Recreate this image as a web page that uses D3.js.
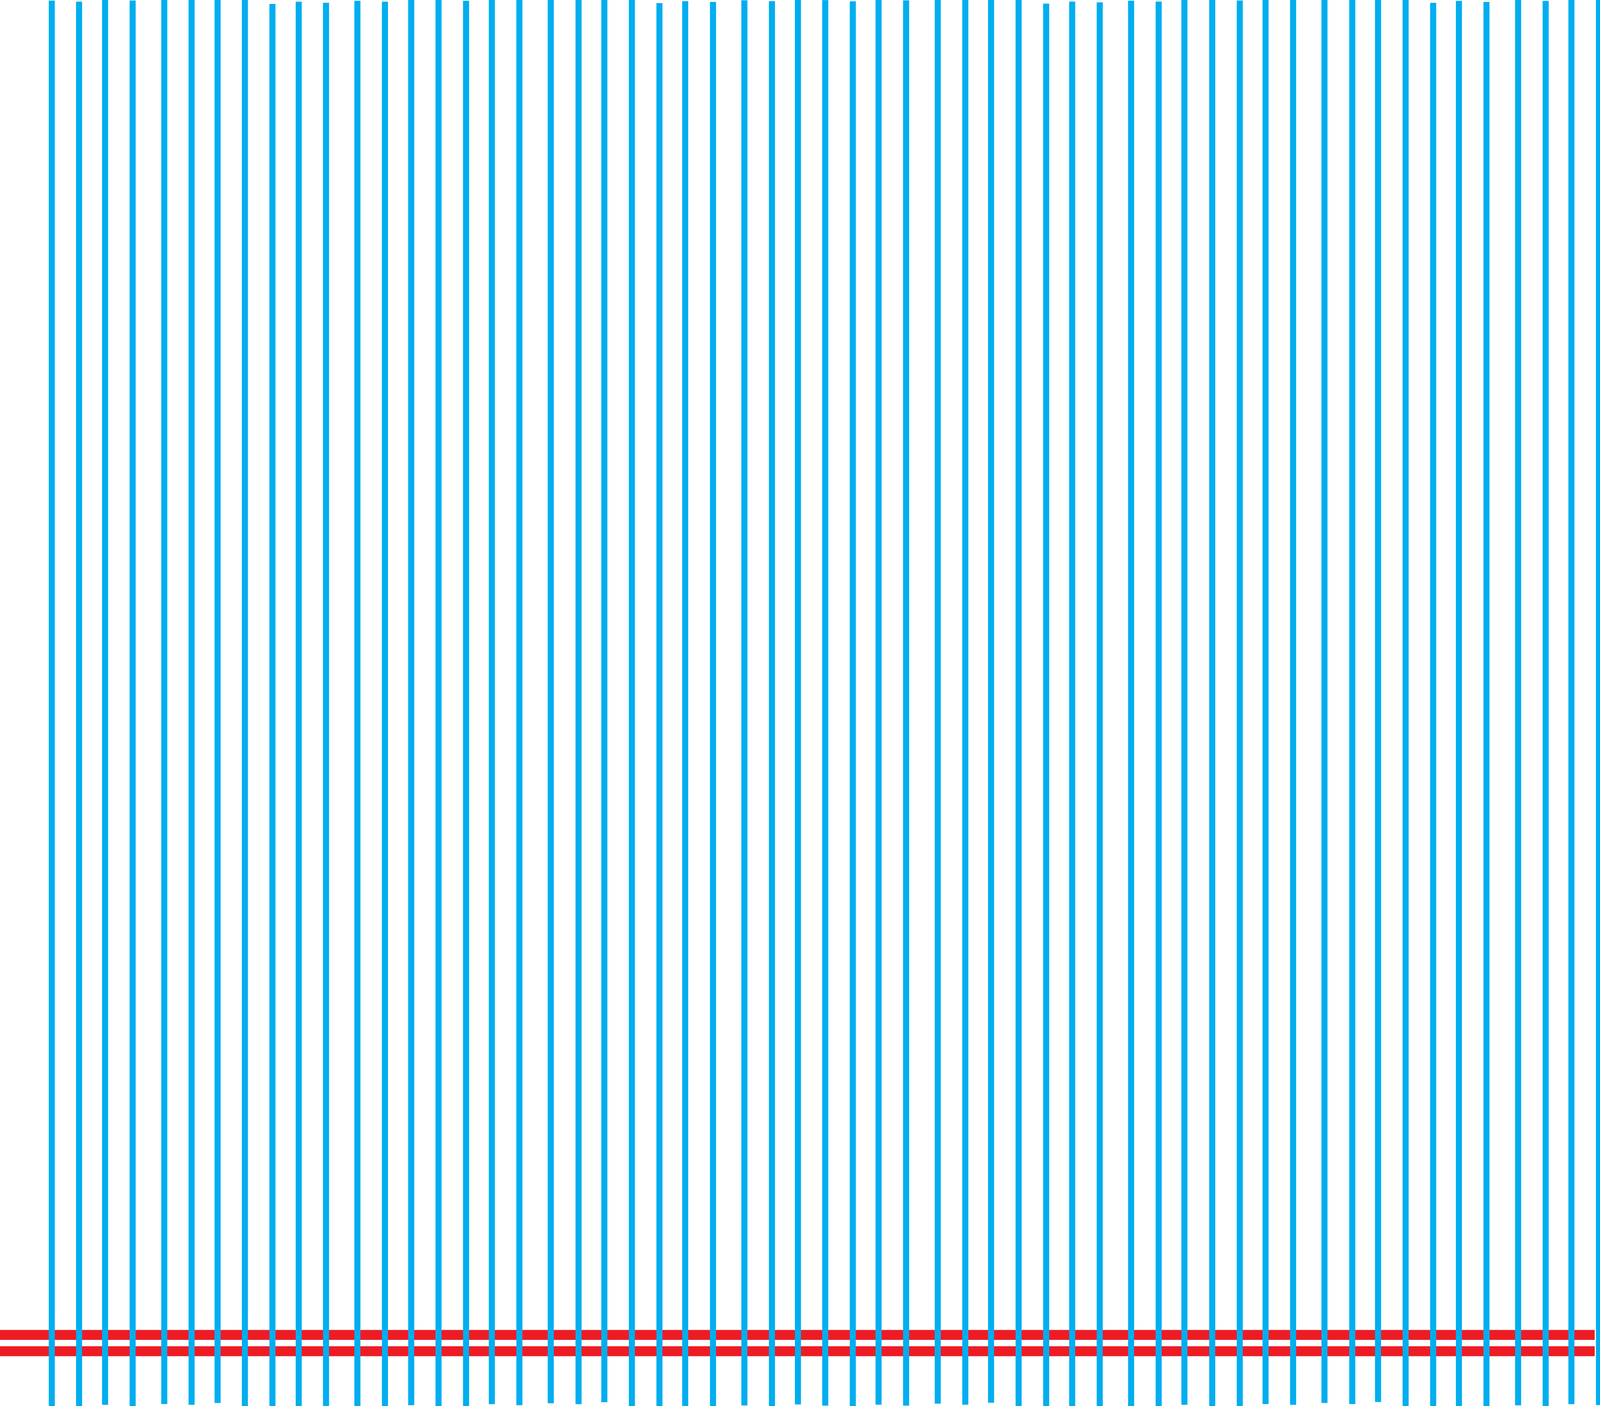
<!DOCTYPE html>
<html>
<head>
<meta charset="utf-8">
<script src="https://cdn.jsdelivr.net/npm/d3@7"></script>
<style>
  html, body { margin: 0; padding: 0; width: 100%; height: 100%; background: #ffffff; overflow: hidden; }
  svg { display: block; width: 100vw; height: 100vh; }
</style>
</head>
<body>
<svg id="chart"></svg>
<script>
// ---- data ----
const barPositions = [
  18.64, 28.47, 37.83, 47.75, 59.14, 68.97, 78.33, 88.16, 98.08, 107.54,
  117.37, 128.66, 138.58, 148.04, 157.87, 167.78, 177.06, 186.98, 198.27, 208.28,
  217.56, 227.48, 237.40, 246.67, 256.68, 267.98, 277.90, 287.26, 297.09, 307.01,
  316.28, 326.20, 337.59, 347.51, 356.78, 366.70, 376.62, 385.99, 395.90, 407.20,
  417.12, 426.39, 436.41, 446.32, 455.60, 465.52, 476.81, 486.82, 496.10, 506.02,
  515.94, 525.21, 535.13, 546.52, 556.44, 565.71, 575.63
];
const barHigh = [
  359.85, 359.58, 360.00, 359.87, 360.00, 360.00, 360.00, 360.00, 359.00, 359.57,
  359.30, 359.80, 359.57, 360.00, 360.00, 359.80, 360.00, 360.00, 360.00, 360.00,
  360.00, 360.00, 359.20, 359.70, 359.50, 359.93, 359.70, 360.00, 359.97, 359.67,
  360.00, 359.90, 360.00, 360.00, 360.00, 360.00, 359.07, 359.60, 359.40, 359.83,
  359.60, 360.00, 360.00, 359.87, 360.00, 360.00, 360.00, 360.00, 360.00, 360.00,
  359.27, 359.77, 359.50, 360.00, 359.77, 360.00, 360.00
];
const barLow = [
  0.00, 0.00, 0.30, 0.00, 0.50, 0.30, 0.77, 0.00, 0.00, 0.00,
  0.00, 0.00, 0.00, 0.20, 0.00, 0.00, 0.47, 0.20, 0.70, 0.47,
  0.97, 0.00, 0.00, 0.00, 0.00, 0.13, 0.00, 0.40, 0.10, 0.00,
  0.33, 0.10, 0.60, 0.33, 0.83, 0.00, 0.00, 0.00, 0.00, 0.00,
  0.00, 0.30, 0.00, 0.00, 0.50, 0.30, 0.77, 0.50, 1.03, 0.00,
  0.00, 0.00, 0.00, 0.17, 0.00, 0.47, 0.23
];
const refLevels = [18.20, 14.02];
const refStart = 0;
const refEnd = 574.1;

// ---- layout ----
const W = 5760, H = 3600;
const svg = d3.select("#chart")
  .attr("viewBox", `0 0 ${W} ${H}`)
  .attr("preserveAspectRatio", "none");
svg.append("rect").attr("width", W).attr("height", H).attr("fill", "#ffffff");

const x = d3.scaleLinear().domain([0, 576]).range([0, W]);
const y = d3.scaleLinear().domain([0, 360]).range([H, 0]);

const barWidth = 21.8;
const refThickness = 25.4;

// reference lines (drawn beneath the bars)
svg.append("g").selectAll("line")
  .data(refLevels)
  .join("line")
  .attr("x1", x(refStart))
  .attr("x2", x(refEnd))
  .attr("y1", d => y(d))
  .attr("y2", d => y(d))
  .attr("stroke", "#ED1C24")
  .attr("stroke-width", refThickness)
  .attr("stroke-linecap", "butt");

// bars
const bars = barPositions.map((p, i) => ({ p, hi: barHigh[i], lo: barLow[i] }));
svg.append("g").selectAll("rect")
  .data(bars)
  .join("rect")
  .attr("x", d => x(d.p) - barWidth / 2)
  .attr("width", barWidth)
  .attr("y", d => y(d.hi))
  .attr("height", d => y(d.lo) - y(d.hi))
  .attr("fill", "#00AEEF");
</script>
</body>
</html>
